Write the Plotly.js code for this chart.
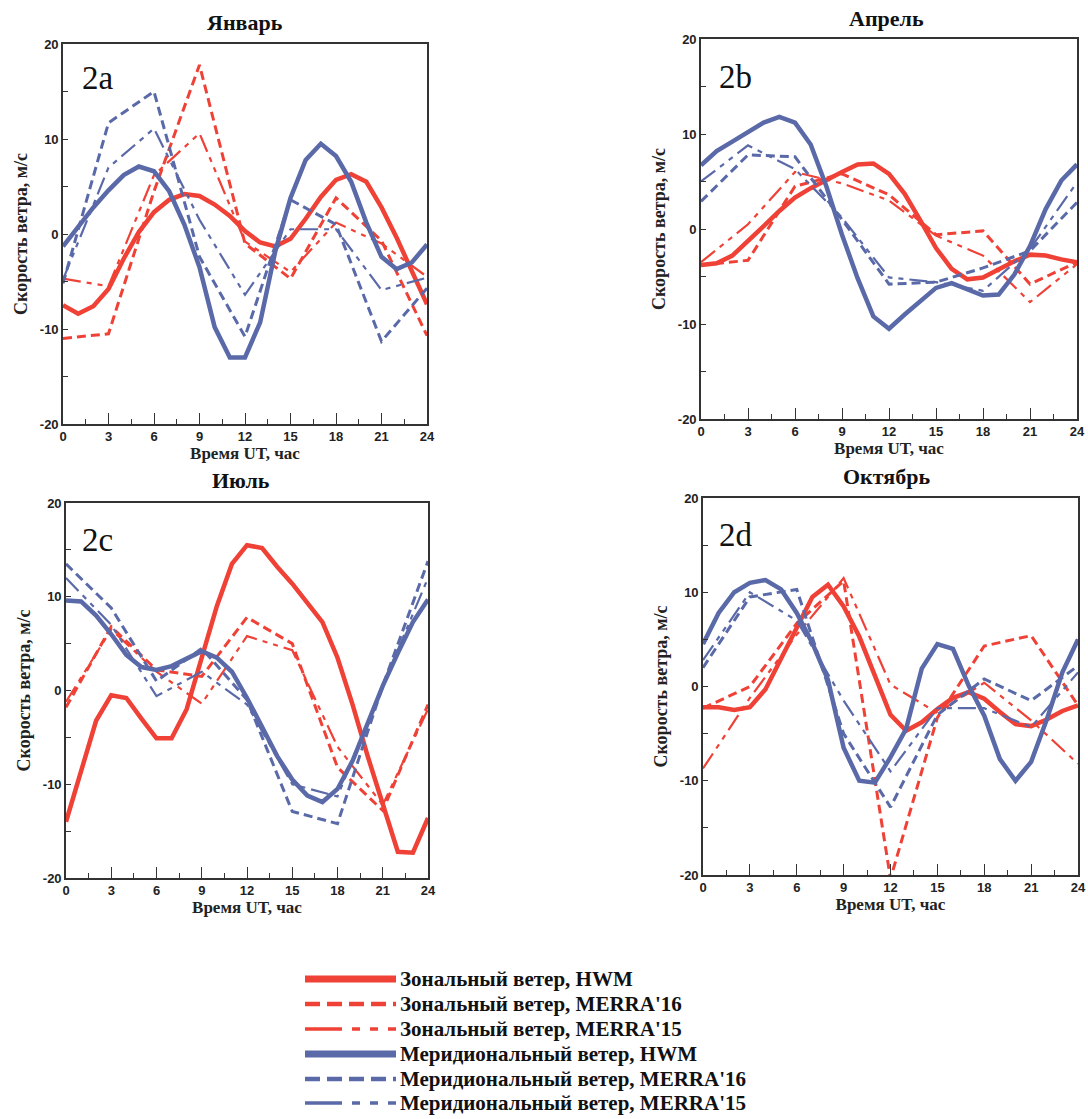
<!DOCTYPE html>
<html><head><meta charset="utf-8">
<script src="https://cdn.plot.ly/plotly-3.0.1.min.js"></script>
<style>html,body{margin:0;padding:0;background:#fff}#chart{width:1088px;height:1119px}</style>
</head><body><div id="chart"></div>
<script>
// ---------- data ----------
const hoursHourly = [0,1,2,3,4,5,6,7,8,9,10,11,12,13,14,15,16,17,18,19,20,21,22,23,24];
const hours3h = [0,3,6,9,12,15,18,21,24];

// Январь (2a)
const janZonalHWM = [-7.5,-8.4,-7.6,-5.8,-2.6,0.2,2.3,3.6,4.2,4.0,3.1,1.9,0.3,-0.9,-1.3,-0.5,1.6,3.9,5.7,6.3,5.5,2.8,-0.4,-3.8,-7.4];
const janZonalM16 = [-11.0,-10.5,4.5,17.8,-1.0,-4.7,3.8,-0.7,-10.7];
const janZonalM15 = [-4.7,-5.5,6.2,10.6,-0.8,-4.0,1.2,-1.0,-4.5];
const janMeridHWM = [-1.3,0.8,2.8,4.6,6.2,7.1,6.6,4.5,1.0,-3.5,-9.8,-13.0,-13.0,-9.3,-1.8,3.8,7.8,9.5,8.2,5.5,1.2,-2.4,-3.7,-3.0,-1.1];
const janMeridM16 = [-5.2,11.7,15.0,-2.4,-10.8,3.6,1.0,-11.3,-5.7];
const janMeridM15 = [-4.8,7.0,11.1,1.5,-6.4,0.5,0.5,-5.9,-4.6];

// Апрель (2b)
const aprZonalHWM = [-3.8,-3.6,-2.8,-1.3,0.3,1.9,3.3,4.3,5.2,6.0,6.8,6.9,5.8,3.7,0.9,-2.0,-4.2,-5.3,-5.1,-4.2,-3.4,-2.7,-2.8,-3.2,-3.5];
const aprZonalM16 = [-3.8,-3.3,4.5,5.8,3.6,-0.6,-0.2,-5.8,-3.5];
const aprZonalM15 = [-3.5,0.5,6.0,4.8,3.0,-0.7,-2.8,-7.7,-3.7];
const aprMeridHWM = [6.7,8.2,9.2,10.2,11.2,11.8,11.2,8.9,4.5,-0.6,-5.2,-9.2,-10.5,-9.0,-7.6,-6.2,-5.7,-6.3,-7.0,-6.9,-4.8,-1.8,2.1,5.1,6.8];
const aprMeridM16 = [2.9,7.8,7.6,1.0,-5.8,-5.6,-4.1,-2.3,2.8];
const aprMeridM15 = [5.0,8.8,6.3,1.2,-5.1,-5.6,-6.5,-2.1,4.9];

// Июль (2c)
const julZonalHWM = [-14.0,-8.5,-3.2,-0.5,-0.8,-3.0,-5.1,-5.1,-2.0,3.5,9.0,13.5,15.5,15.2,13.2,11.4,9.3,7.3,3.5,-1.5,-7.0,-12.0,-17.2,-17.3,-13.6];
const julZonalM16 = [-1.8,6.8,2.2,1.5,7.8,5.0,-8.2,-12.8,-1.5];
const julZonalM15 = [-1.2,6.5,2.0,-1.4,5.8,4.3,-6.0,-12.2,-2.0];
const julMeridHWM = [9.6,9.5,8.0,6.0,3.8,2.5,2.2,2.6,3.4,4.2,3.5,2.0,-0.8,-4.0,-7.0,-9.5,-11.2,-11.9,-10.5,-7.5,-3.5,0.5,4.0,7.3,9.7];
const julMeridM16 = [13.5,8.8,1.0,4.5,-1.0,-12.9,-14.2,0.5,13.8];
const julMeridM15 = [12.0,7.0,-0.6,2.0,-1.5,-10.0,-11.3,0.5,12.0];

// Октябрь (2d)
const octZonalHWM = [-2.2,-2.2,-2.5,-2.2,-0.3,3.0,6.2,9.5,10.8,8.5,5.3,1.1,-3.0,-4.7,-3.8,-2.4,-1.2,-0.6,-1.3,-2.7,-4.0,-4.2,-3.5,-2.6,-2.0];
const octZonalM16 = [-2.3,0.0,6.7,11.2,-20.4,-3.3,4.3,5.4,-2.0];
const octZonalM15 = [-8.7,-1.2,5.5,11.5,0.2,-2.8,0.4,-3.6,-8.2];
const octMeridHWM = [4.5,7.8,10.0,11.0,11.3,10.3,7.8,4.6,0.7,-6.5,-10.0,-10.2,-7.5,-4.5,1.9,4.5,4.0,0.1,-3.1,-7.7,-10.0,-8.0,-3.5,1.5,5.0];
const octMeridM16 = [2.0,9.5,10.3,-5.0,-12.8,-3.0,0.8,-1.5,2.2];
const octMeridM15 = [2.8,10.0,7.0,-1.5,-9.0,-2.3,-2.3,-4.3,1.5];

const panelTitles = ['Январь','Апрель','Июль','Октябрь'];
const panelLabels = ['2a','2b','2c','2d'];
const seriesNames = ['Зональный ветер, HWM','Зональный ветер, MERRA\'16','Зональный ветер, MERRA\'15',
                     'Меридиональный ветер, HWM','Меридиональный ветер, MERRA\'16','Меридиональный ветер, MERRA\'15'];
const xTitleText = 'Время UT, час';
const yTitleText = 'Скорость ветра, м/с';
const xTickVals = [0,3,6,9,12,15,18,21,24];
const xTickText = ['0','3','6','9','12','15','18','21','24'];
const yTickVals = [-20,-10,0,10,20];
const yTickText = ['-20','-10','0','10','20'];

// ---------- styles ----------
const RED = '#ef4136', BLUE = '#5a69a8';
const W = 1088, H = 1119;
const px = x => x / W, py = y => 1 - y / H;
const SERIF = 'Liberation Serif, Times New Roman, serif';

const styles = [
  {color: RED,  width: 4.5, dash: 'solid'},
  {color: RED,  width: 3,   dash: '9px,5px'},
  {color: RED,  width: 2.2, dash: '18px,6px,5px,6px,5px,6px'},
  {color: BLUE, width: 4.5, dash: 'solid'},
  {color: BLUE, width: 3,   dash: '9px,5px'},
  {color: BLUE, width: 2.2, dash: '18px,6px,5px,6px,5px,6px'}
];

const panelData = [
  [janZonalHWM, janZonalM16, janZonalM15, janMeridHWM, janMeridM16, janMeridM15],
  [aprZonalHWM, aprZonalM16, aprZonalM15, aprMeridHWM, aprMeridM16, aprMeridM15],
  [julZonalHWM, julZonalM16, julZonalM15, julMeridHWM, julMeridM16, julMeridM15],
  [octZonalHWM, octZonalM16, octZonalM15, octMeridHWM, octMeridM16, octMeridM15]
];

const panelBoxes = [
  {x: [63, 427],  y: [44, 424],  title: [245, 22],  label: [80, 78]},
  {x: [701, 1077], y: [39, 419], title: [886, 18],  label: [717, 77]},
  {x: [66, 428],  y: [503, 878], title: [241, 480], label: [80, 540]},
  {x: [703, 1078], y: [498, 875], title: [886, 476], label: [717, 535]}
];

const traces = [];
const layout = {
  width: W, height: H,
  margin: {l: 0, r: 0, t: 0, b: 0},
  paper_bgcolor: '#fff', plot_bgcolor: '#fff',
  showlegend: false,
  annotations: [], shapes: []
};

const tickFont = {family: 'Liberation Sans, Arial, sans-serif', size: 13, color: '#222', weight: 'bold'};

panelData.forEach((series, p) => {
  const ax = p === 0 ? '' : String(p + 1);
  const box = panelBoxes[p];
  series.forEach((vals, s) => {
    const hourly = vals.length === hoursHourly.length;
    traces.push({
      type: 'scatter', mode: 'lines',
      x: hourly ? hoursHourly : hours3h, y: vals,
      name: seriesNames[s],
      line: {color: styles[s].color, width: styles[s].width, dash: styles[s].dash},
      xaxis: 'x' + ax, yaxis: 'y' + ax,
      hoverinfo: 'x+y+name'
    });
  });
  layout['xaxis' + ax] = {
    domain: [px(box.x[0]), px(box.x[1])], anchor: 'y' + ax,
    range: [0, 24], tickmode: 'array', tickvals: xTickVals, ticktext: xTickText,
    ticks: 'inside', ticklen: 11, tickwidth: 1.4, tickcolor: '#333',
    minor: {tickmode: 'linear', tick0: 0, dtick: 1.5, ticks: 'inside', ticklen: 5, tickwidth: 1.4, tickcolor: '#333'},
    showline: true, linecolor: '#333', linewidth: 1.6, mirror: true,
    showgrid: false, zeroline: false, tickfont: tickFont, automargin: false,
    title: {text: xTitleText, font: {family: SERIF, size: 17, color: '#222', weight: 'bold'}, standoff: 2}
  };
  layout['yaxis' + ax] = {
    domain: [py(box.y[1]), py(box.y[0])], anchor: 'x' + ax,
    range: [-20, 20], tickmode: 'array', tickvals: yTickVals, ticktext: yTickText,
    ticks: 'inside', ticklen: 5, tickwidth: 1.4, tickcolor: '#333',
    minor: {tickmode: 'linear', tick0: 0, dtick: 5, ticks: 'inside', ticklen: 5, tickwidth: 1.4, tickcolor: '#333'},
    showline: true, linecolor: '#333', linewidth: 1.6, mirror: true,
    showgrid: false, zeroline: false, tickfont: tickFont, automargin: false,
    title: {text: yTitleText, font: {family: SERIF, size: 18, color: '#222', weight: 'bold'}, standoff: 8}
  };
  layout.annotations.push({
    xref: 'paper', yref: 'paper', x: px(box.title[0]), y: py(box.title[1]),
    xanchor: 'center', yanchor: 'middle', showarrow: false, text: panelTitles[p],
    font: {family: SERIF, size: 22, color: '#111', weight: 'bold'}
  });
  layout.annotations.push({
    xref: 'paper', yref: 'paper', x: px(box.label[0]), y: py(box.label[1]),
    xanchor: 'left', yanchor: 'middle', showarrow: false, text: panelLabels[p],
    font: {family: SERIF, size: 33, color: '#111'}
  });
});

// ---------- manual legend ----------
const legendRowsY = [979, 1004, 1029, 1054, 1079, 1103];
const legendSampleWidths = [7, 4.5, 3.5, 7, 4.5, 3.5];
const legendDash = ['solid', '15px,7px', '37px,10px,8px,10px,8px,10px', 'solid', '15px,7px', '37px,10px,8px,10px,8px,10px'];
seriesNames.forEach((name, i) => {
  layout.shapes.push({
    type: 'line', xref: 'paper', yref: 'paper',
    x0: px(305), x1: px(396), y0: py(legendRowsY[i]), y1: py(legendRowsY[i]),
    line: {color: styles[i].color, width: legendSampleWidths[i], dash: legendDash[i]}
  });
  layout.annotations.push({
    xref: 'paper', yref: 'paper', x: px(398), y: py(legendRowsY[i]),
    xanchor: 'left', yanchor: 'middle', showarrow: false, text: name,
    font: {family: SERIF, size: 21, color: '#111', weight: 'bold'}
  });
});

Plotly.newPlot('chart', traces, layout, {displayModeBar: false, responsive: false});
</script>
</body></html>
